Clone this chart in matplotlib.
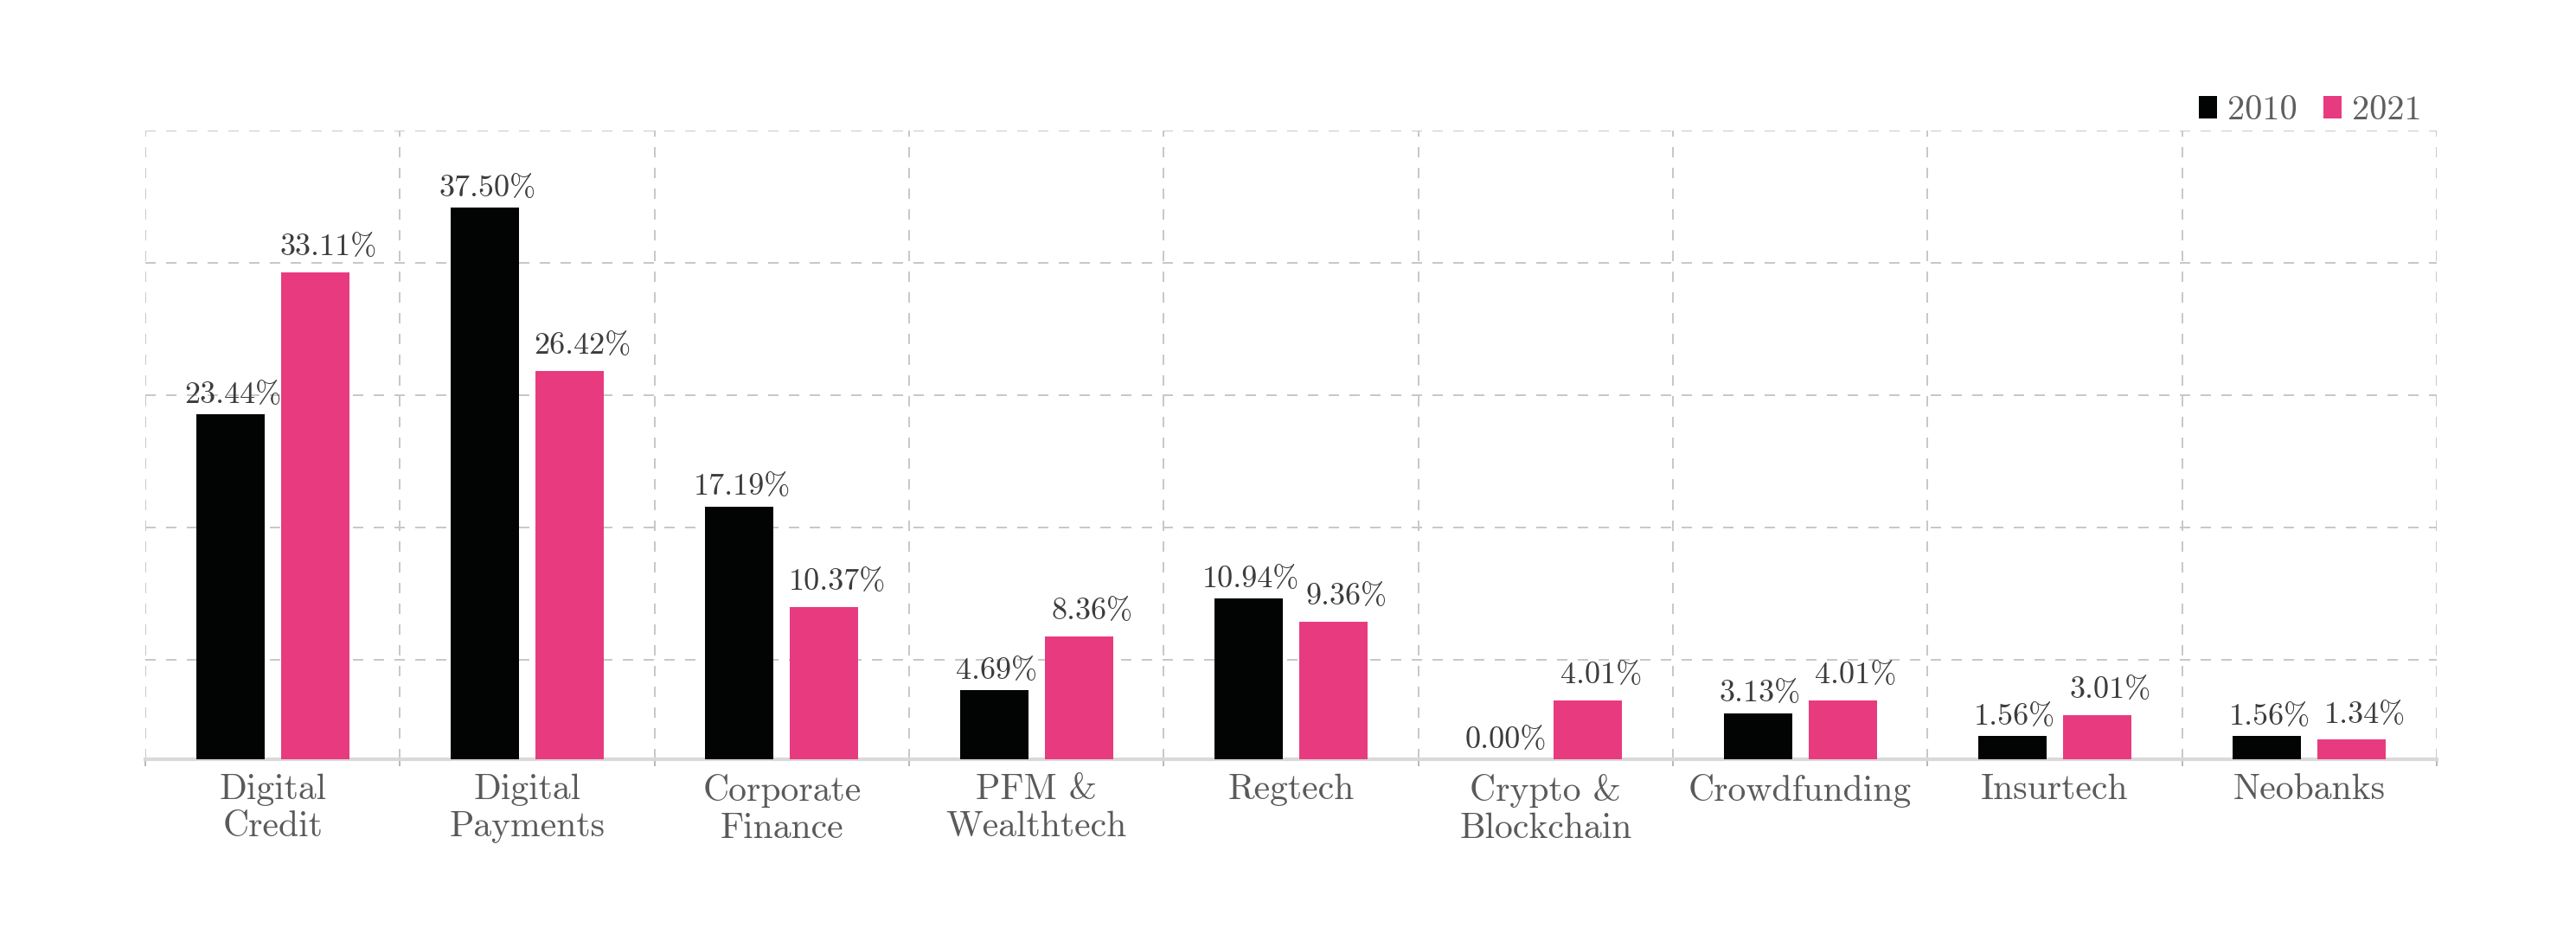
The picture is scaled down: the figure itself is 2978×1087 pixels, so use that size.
import numpy as np
import matplotlib.pyplot as plt
from matplotlib.patches import Patch

plt.rcParams['font.family'] = ['cmr10', 'DejaVu Serif']
plt.rcParams['axes.formatter.use_mathtext'] = True

categories = ["Digital\nCredit", "Digital\nPayments", "Corporate\nFinance",
              "PFM &\nWealthtech", "Regtech", "Crypto &\nBlockchain",
              "Crowdfunding", "Insurtech", "Neobanks"]
share_2010 = [23.44, 37.50, 17.19, 4.69, 10.94, 0.00, 3.13, 1.56, 1.56]
share_2021 = [33.11, 26.42, 10.37, 8.36, 9.36, 4.01, 4.01, 3.01, 1.34]
years = ["2010", "2021"]

black = '#020303'
pink = '#e83b7f'
grid_col = '#c8c8c8'

W, H = 2978, 1087
fig = plt.figure(figsize=(W / 200, H / 200), dpi=200)
ax = fig.add_axes([168 / W, 209 / H, (2817 - 168) / W, 727 / H])

x = np.arange(len(categories))
bw = 0.268
off = 0.1665

ax.bar(x - off, share_2010, bw, color=black, zorder=3)
ax.bar(x + off, share_2021, bw, color=pink, zorder=3)

# value labels
for xi, v in zip(x, share_2010):
    ax.annotate(f"{v:.2f}%", (xi - off, v), xytext=(1, 4.8),
                textcoords='offset points', ha='center', va='baseline',
                fontsize=13, color='#3c3c3c', zorder=4)
for xi, v in zip(x, share_2021):
    ax.annotate(f"{v:.2f}%", (xi + off, v), xytext=(5.5, 7),
                textcoords='offset points', ha='center', va='baseline',
                fontsize=13, color='#3c3c3c', zorder=4)

ax.set_xlim(-0.5, len(categories) - 0.5)
ax.set_ylim(0, 42.75)

ax.set_xticks(x)
ax.set_xticklabels(categories, fontsize=15, color='#5a5a5a', linespacing=1.2)
ax.tick_params(axis='x', which='major', length=0, pad=6)
ax.set_xticks(np.arange(-0.5, len(categories)), minor=True)
ax.tick_params(axis='x', which='minor', length=3, color='#aaaaaa', width=0.6)

ax.set_yticks(np.arange(6.75, 43, 9))
ax.tick_params(axis='y', length=0, labelleft=False)

ax.grid(True, which='minor', axis='x', color=grid_col, linewidth=0.72,
        linestyle=(0, (6, 6)), zorder=0)
ax.grid(True, which='major', axis='y', color=grid_col, linewidth=0.72,
        linestyle=(0, (6, 6)), zorder=0)
ax.grid(False, which='major', axis='x')

for s in ['top', 'right', 'left']:
    ax.spines[s].set_visible(False)
ax.spines['bottom'].set_color('#d9d9d9')
ax.spines['bottom'].set_linewidth(1.5)
ax.spines['bottom'].set_zorder(2)

handles = [Patch(facecolor=black), Patch(facecolor=pink)]
fig.legend(handles, years, loc='lower right',
           bbox_to_anchor=(2800 / W, (H - 146) / H), ncol=2, frameon=False,
           handlelength=0.52, handleheight=0.6, handletextpad=0.3,
           columnspacing=0.75, borderpad=0, borderaxespad=0,
           fontsize=14.5, labelcolor='#5f5f5f')

fig.savefig("out.png", dpi=200, facecolor='white')
